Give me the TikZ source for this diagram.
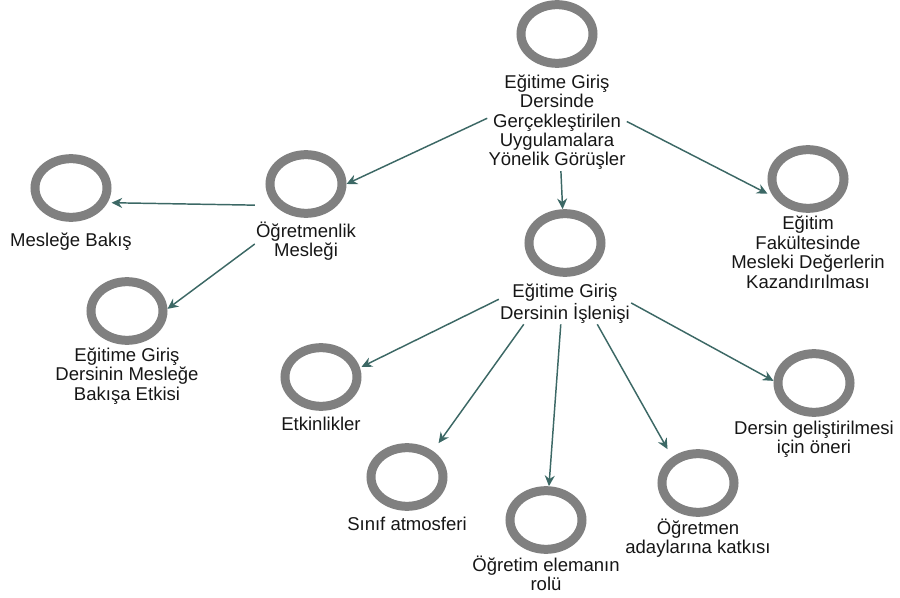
\documentclass[tikz,border=0pt]{standalone}
\usepackage{fontspec}
\setmainfont{Liberation Sans}
\usetikzlibrary{positioning,fit,shapes.geometric,arrows.meta}

\definecolor{ringgray}{HTML}{808080}
\definecolor{linkteal}{HTML}{3C6865}
\definecolor{labelgray}{HTML}{161616}

\tikzset{
  ringnode/.style={ellipse, draw=ringgray, line width=6.75pt, minimum width=54pt, minimum height=44pt, inner sep=0pt},
  ringlabel/.style={align=center, text=labelgray, inner sep=0.75pt, font=\fontsize{13.9pt}{14.6pt}\selectfont, execute at begin node={\rule{0pt}{0.95em}}},
  ringbox/.style={inner sep=0pt, outer sep=0pt},
  conn/.style={draw=linkteal, line width=1.1pt, -{Stealth[length=8pt, width=7.5pt]}}
}

\begin{document}
\begin{tikzpicture}[x=0.75pt, y=-0.75pt]

\useasboundingbox (0,0) rectangle (900,598);

% rings
\node[ringnode] (root)  at (557,34)  {};
\node[ringnode] (ogr)   at (306,184) {};
\node[ringnode] (bak)   at (71,188)  {};
\node[ringnode] (etk)   at (127,311) {};
\node[ringnode] (isl)   at (565,243) {};
\node[ringnode] (fak)   at (808,179) {};
\node[ringnode] (etkin) at (321,377) {};
\node[ringnode] (sinif) at (407,477) {};
\node[ringnode] (ogrt)  at (546,520) {};
\node[ringnode] (aday)  at (698,483) {};
\node[ringnode] (oneri) at (814,383) {};

% labels
\node[ringlabel, below=4pt of root] (root-t) {Eğitime Giriş\\Dersinde\\Gerçekleştirilen\\Uygulamalara\\Yönelik Görüşler};
\node[ringlabel, below=2pt of ogr] (ogr-t) {Öğretmenlik\\Mesleği};
\node[ringlabel, below=4.5pt of bak] (bak-t) {Mesleğe Bakış};
\node[ringlabel, below=1pt of etk] (etk-t) {Eğitime Giriş\\Dersinin Mesleğe\\Bakışa Etkisi};
\node[ringlabel, below=4.5pt of isl] (isl-t) {Eğitime Giriş\\Dersinin İşlenişi};
\node[ringlabel, below=1.5pt of fak] (fak-t) {Eğitim\\Fakültesinde\\Mesleki Değerlerin\\Kazandırılması};
\node[ringlabel, below=0.5pt of etkin] (etkin-t) {Etkinlikler};
\node[ringlabel, below=0.5pt of sinif] (sinif-t) {Sınıf atmosferi};
\node[ringlabel, below=0.5pt of ogrt] (ogrt-t) {Öğretim elemanın\\rolü};
\node[ringlabel, below=0.5pt of aday] (aday-t) {Öğretmen\\adaylarına katkısı};
\node[ringlabel, below=2pt of oneri] (oneri-t) {Dersin geliştirilmesi\\için öneri};

% boxes: ring alone, ring with its label
\foreach \n in {root,ogr,bak,etk,isl,fak,etkin,sinif,ogrt,aday,oneri}{
  \node[ringbox, fit=(\n.north)(\n.south)(\n.east)(\n.west)] (\n-b) {};
  \node[ringbox, fit=(\n-b)(\n-t)] (\n-g) {};
}

% connectors
\draw[conn] (root-g) -- (ogr-b.0);
\draw[conn] (root-g) -- (fak-b.200);
\draw[conn] (root-g) -- (isl-b.94);
\draw[conn] (ogr-g) -- (bak-b.340);
\draw[conn] (ogr-g) -- (etk-b.3);
\draw[conn] (isl-g) -- (etkin-b.14);
\draw[conn] (isl-g) -- (sinif-b.47);
\draw[conn] (isl-g) -- (ogrt-b.85);
\draw[conn] (isl-g) -- (aday-b.132);
\draw[conn] (isl-g) -- (oneri-b.177);

\end{tikzpicture}
\end{document}
